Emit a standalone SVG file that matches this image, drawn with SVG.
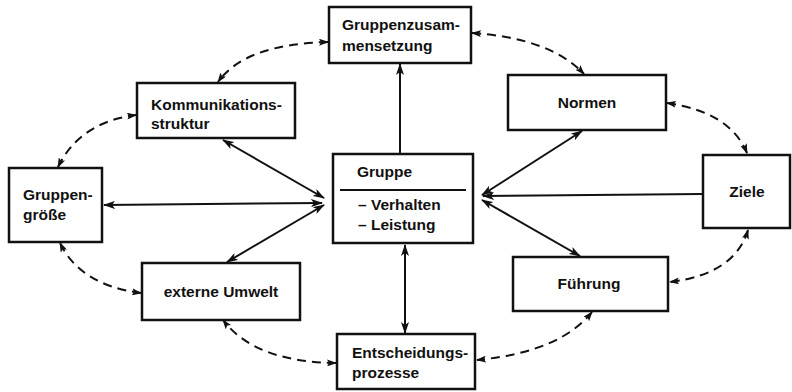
<svg xmlns="http://www.w3.org/2000/svg" width="792" height="392" viewBox="0 0 792 392">
<defs>
<marker id="ah" viewBox="0 0 12 8" refX="11" refY="4" markerWidth="12" markerHeight="8" markerUnits="userSpaceOnUse" orient="auto-start-reverse">
<path d="M0,0 L12,4 L0,8 L3,4 Z" fill="#111"/>
</marker>
<marker id="dh" viewBox="0 0 10 7" refX="9" refY="3.5" markerWidth="10" markerHeight="7" markerUnits="userSpaceOnUse" orient="auto-start-reverse">
<path d="M0,0 L10,3.5 L0,7 L2,3.5 Z" fill="#111"/>
</marker>
<style>
.box{fill:#fff;stroke:#111;stroke-width:2.5}
.t{font-family:"Liberation Sans",Arial,sans-serif;font-size:15.5px;font-weight:bold;fill:#111}
.c{text-anchor:middle}
.s{fill:none;stroke:#111;stroke-width:2;marker-start:url(#ah);marker-end:url(#ah)}
.s1{fill:none;stroke:#111;stroke-width:2;marker-end:url(#ah)}
.d{fill:none;stroke:#111;stroke-width:2;stroke-dasharray:9 6;marker-start:url(#dh);marker-end:url(#dh)}
</style>
</defs>
<rect width="792" height="392" fill="#fff"/>
<g id="connectors">
<line class="s1" x1="400" y1="154" x2="400" y2="64"/>
<line class="s" x1="405" y1="245" x2="405" y2="333"/>
<line class="s" x1="223" y1="140" x2="324" y2="198"/>
<line class="s" x1="104" y1="205" x2="322" y2="203"/>
<line class="s" x1="227" y1="262" x2="324" y2="205"/>
<line class="s" x1="582" y1="131" x2="482" y2="195"/>
<line class="s1" x1="702" y1="194" x2="483" y2="196"/>
<line class="s" x1="580" y1="256" x2="482" y2="200"/>
<path class="d" d="M328,42 Q245,44 218,82"/>
<path class="d" d="M472,33 Q550,38 584,74"/>
<path class="d" d="M667,103 Q730,112 747,153"/>
<path class="d" d="M748,230 Q735,274 670,282"/>
<path class="d" d="M592,312 Q560,352 477,360"/>
<path class="d" d="M336,363 Q255,362 223,320"/>
<path class="d" d="M141,293 Q80,285 60,243"/>
<path class="d" d="M58,167 Q80,122 136,115"/>
</g>
<g id="gruppenzusammensetzung">
<rect class="box" x="329" y="7" width="142" height="56"/>
<text class="t" x="342" y="30">Gruppenzusam-</text>
<text class="t" x="342" y="51">mensetzung</text>
</g>
<g id="kommunikationsstruktur">
<rect class="box" x="137" y="83" width="158" height="55"/>
<text class="t" x="151" y="110">Kommunikations-</text>
<text class="t" x="151" y="129">struktur</text>
</g>
<g id="normen">
<rect class="box" x="508" y="75" width="158" height="55"/>
<text class="t c" x="587" y="108">Normen</text>
</g>
<g id="gruppengroesse">
<rect class="box" x="9" y="168" width="93" height="74"/>
<text class="t" x="23" y="200">Gruppen-</text>
<text class="t" x="23" y="220">größe</text>
</g>
<g id="gruppe">
<rect class="box" x="333" y="154" width="140" height="89"/>
<text class="t" x="357" y="177">Gruppe</text>
<line x1="340" y1="190" x2="466" y2="190" stroke="#111" stroke-width="2"/>
<text class="t" x="358" y="210">– Verhalten</text>
<text class="t" x="358" y="230">– Leistung</text>
</g>
<g id="ziele">
<rect class="box" x="703" y="155" width="87" height="73"/>
<text class="t c" x="747" y="197">Ziele</text>
</g>
<g id="externe-umwelt">
<rect class="box" x="142" y="263" width="158" height="57"/>
<text class="t c" x="221" y="297">externe Umwelt</text>
</g>
<g id="fuehrung">
<rect class="box" x="513" y="257" width="155" height="54"/>
<text class="t c" x="589" y="289">Führung</text>
</g>
<g id="entscheidungsprozesse">
<rect class="box" x="337" y="334" width="138" height="55"/>
<text class="t" x="352" y="358">Entscheidungs-</text>
<text class="t" x="352" y="378">prozesse</text>
</g>
</svg>
